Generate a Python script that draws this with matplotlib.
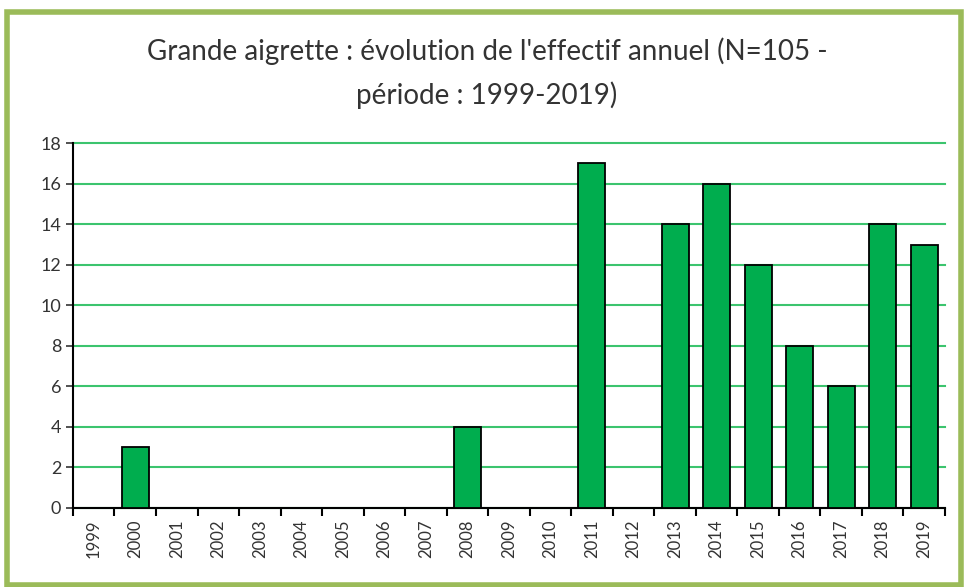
import matplotlib.pyplot as plt
from matplotlib.patches import Rectangle

annees = [str(a) for a in range(1999, 2020)]
effectifs = [0, 3, 0, 0, 0, 0, 0, 0, 0, 4, 0, 0, 17, 0, 14, 16, 12, 8, 6, 14, 13]

plt.rcParams['font.family'] = ['Lato', 'DejaVu Sans']

fig = plt.figure(figsize=(9.64, 5.87), dpi=100)
ax = fig.add_axes([0.0757, 0.1346, 0.9045, 0.6214])

x = range(len(annees))
ax.bar(x, effectifs, width=0.65, color='#00AD4E', edgecolor='black', linewidth=1.3, zorder=3)

ax.set_xlim(-0.5, len(annees) - 0.5)
ax.set_ylim(0, 18)
ax.set_yticks(range(0, 19, 2))
ax.tick_params(axis='y', labelsize=13, length=5, width=1.2, colors='#333333')
ax.yaxis.grid(True, color='#3CC46E', linewidth=1.5, zorder=0)
for gl in ax.get_ygridlines():
    gl.set_clip_on(False)

ax.set_xticks(list(x))
ax.set_xticklabels(annees, rotation=90, fontsize=12, color='#333333')
ax.set_xticks([i - 0.5 for i in range(len(annees) + 1)], minor=True)
ax.tick_params(axis='x', which='major', length=0, pad=8)
ax.tick_params(axis='x', which='minor', length=6, width=1.5, direction='out')

for s in ['top', 'right']:
    ax.spines[s].set_visible(False)
ax.spines['left'].set_linewidth(1.5)
ax.spines['bottom'].set_linewidth(1.5)

fig.text(0.505, 0.912, "Grande aigrette : évolution de l'effectif annuel (N=105 -",
         ha='center', va='center', fontsize=20, color='#333333')
fig.text(0.505, 0.838, "période : 1999-2019)",
         ha='center', va='center', fontsize=20, color='#333333')

fig.patches.append(Rectangle((0.007, 0.004), 0.99, 0.975, transform=fig.transFigure,
                             fill=False, edgecolor='#9BBB59', linewidth=4))

fig.savefig('out.png', dpi=100)
